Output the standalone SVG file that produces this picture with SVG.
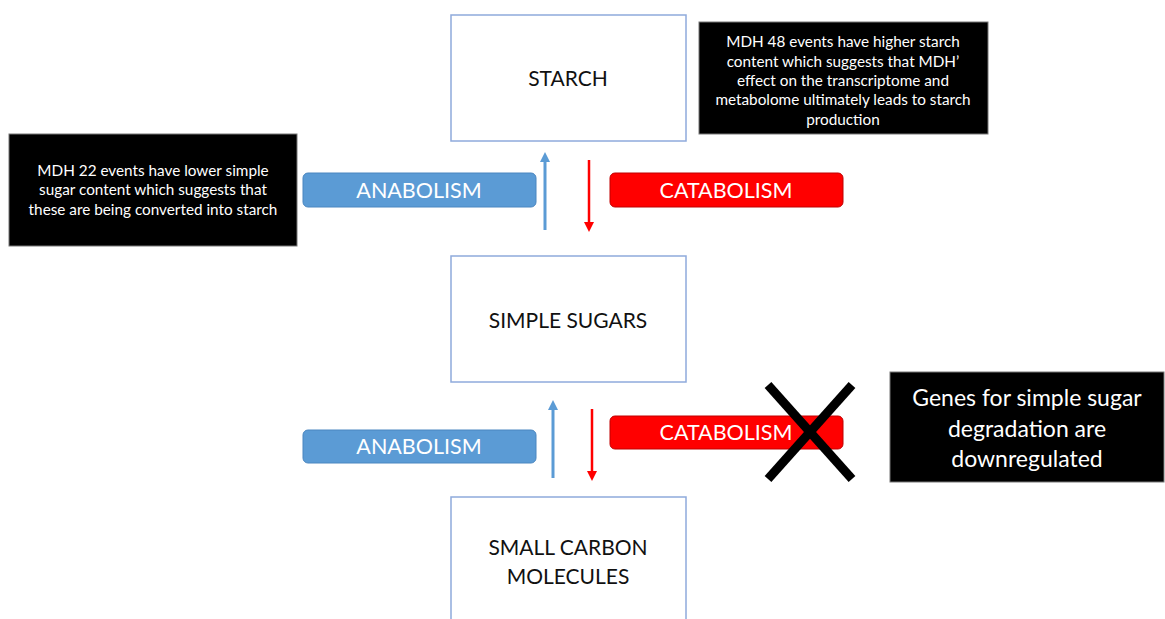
<svg xmlns="http://www.w3.org/2000/svg" width="1165" height="619" viewBox="0 0 1165 619">
<style>
.node{fill:#fff;stroke:#8FAADC;stroke-width:1.5}
.nt{font-family:Lato,"Liberation Sans",sans-serif;font-size:21px;fill:#111;text-anchor:middle}
.note{fill:#000;stroke:#777;stroke-width:1}
.ntw{font-family:Lato,"Liberation Sans",sans-serif;fill:#fff;text-anchor:middle}
.ana{fill:#5B9BD5;stroke:#4A86C0;stroke-width:1}
.cat{fill:#FF0000;stroke:#C00000;stroke-width:1}
.lbl{font-family:Lato,"Liberation Sans",sans-serif;font-size:21.5px;fill:#fff;text-anchor:middle}
.up{stroke:#5B9BD5;stroke-width:3;fill:none}
.down{stroke:#FF0000;stroke-width:2.5;fill:none}
</style>
<defs>
<marker id="hb" markerWidth="10" markerHeight="10" refX="5" refY="5" orient="auto" markerUnits="userSpaceOnUse"><path d="M0,0 L10,5 L0,10 z" fill="#5B9BD5"/></marker>
<marker id="hr" markerWidth="10" markerHeight="10" refX="5" refY="5" orient="auto" markerUnits="userSpaceOnUse"><path d="M0,0 L10,5 L0,10 z" fill="#FF0000"/></marker>
</defs>
<rect width="1165" height="619" fill="#fff"/>
<g id="starch"><rect class="node" x="451" y="15" width="235" height="126"/><text class="nt" x="568" y="86">STARCH</text></g>
<g id="simple-sugars"><rect class="node" x="451" y="256" width="235" height="126"/><text class="nt" x="568" y="328">SIMPLE SUGARS</text></g>
<g id="small-carbon"><rect class="node" x="451" y="497" width="235" height="130"/><text class="nt" x="568" y="555">SMALL CARBON</text><text class="nt" x="568" y="584">MOLECULES</text></g>
<g id="note-mdh48"><rect class="note" x="699" y="22" width="289" height="112"/>
<text class="ntw" font-size="15.3"><tspan x="843" y="47">MDH 48 events have higher starch</tspan><tspan x="843" y="67">content which suggests that MDH’</tspan><tspan x="843" y="86">effect on the transcriptome and</tspan><tspan x="843" y="105">metabolome ultimately leads to starch</tspan><tspan x="843" y="125">production</tspan></text></g>
<g id="note-mdh22"><rect class="note" x="9" y="134" width="288" height="112"/>
<text class="ntw" font-size="15.3"><tspan x="153" y="176">MDH 22 events have lower simple</tspan><tspan x="153" y="195">sugar content which suggests that</tspan><tspan x="153" y="215">these are being converted into starch</tspan></text></g>
<g id="note-genes"><rect class="note" x="890" y="372" width="274" height="110"/>
<text class="ntw" font-size="23"><tspan x="1027" y="406">Genes for simple sugar</tspan><tspan x="1027" y="437">degradation are</tspan><tspan x="1027" y="467">downregulated</tspan></text></g>
<g id="anabolism-1"><rect class="ana" x="303" y="173" width="233" height="34" rx="5"/><text class="lbl" x="419" y="198">ANABOLISM</text></g>
<g id="catabolism-1"><rect class="cat" x="610" y="173" width="233" height="34" rx="5"/><text class="lbl" x="726" y="198">CATABOLISM</text></g>
<g id="anabolism-2"><rect class="ana" x="303" y="430" width="233" height="33" rx="5"/><text class="lbl" x="419" y="454">ANABOLISM</text></g>
<g id="catabolism-2"><rect class="cat" x="610" y="416" width="233" height="33" rx="5"/><text class="lbl" x="726" y="440">CATABOLISM</text></g>
<g id="connectors">
<line class="up" x1="545" y1="230" x2="545" y2="157" marker-end="url(#hb)"/>
<line class="down" x1="589" y1="160" x2="589" y2="227" marker-end="url(#hr)"/>
<line class="up" x1="553" y1="478" x2="553" y2="405" marker-end="url(#hb)"/>
<line class="down" x1="592" y1="409" x2="592" y2="476" marker-end="url(#hr)"/>
</g>
<g id="cross" stroke="#000" stroke-width="9"><line x1="768" y1="385" x2="852" y2="479"/><line x1="852" y1="385" x2="768" y2="479"/></g>
</svg>
